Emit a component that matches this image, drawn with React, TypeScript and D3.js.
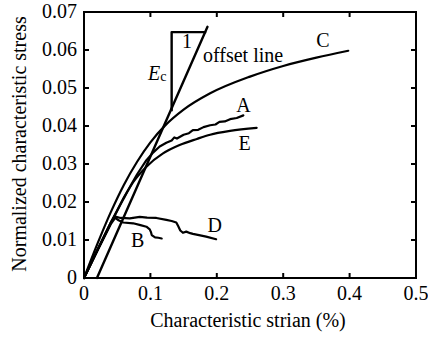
import React from "react";
import * as d3 from "d3";

const xTicks = [0, 0.1, 0.2, 0.3, 0.4, 0.5];
const yTicks = [0, 0.01, 0.02, 0.03, 0.04, 0.05, 0.06, 0.07];
const xTickLabels = ["0", "0.1", "0.2", "0.3", "0.4", "0.5"];
const yTickLabels = ["0", "0.01", "0.02", "0.03", "0.04", "0.05", "0.06", "0.07"];

const curveC: [number, number][] = [
  [0, 0], [0.02, 0.0089], [0.04, 0.0172], [0.06, 0.0245], [0.08, 0.0306], [0.1, 0.0357],
  [0.122, 0.0401], [0.15, 0.0443], [0.19, 0.0486], [0.25, 0.053], [0.3, 0.0558],
  [0.35, 0.058], [0.398, 0.0598],
];
const curveA: [number, number][] = [
  [0, 0], [0.02, 0.0073], [0.04, 0.0145], [0.06, 0.0212], [0.08, 0.0273], [0.094, 0.031],
  [0.104, 0.033], [0.114, 0.0346], [0.124, 0.0356], [0.132, 0.0362], [0.136, 0.037],
  [0.14, 0.0367], [0.15, 0.0377], [0.158, 0.0381], [0.164, 0.0389], [0.172, 0.039],
  [0.18, 0.0397], [0.19, 0.0402], [0.198, 0.0404], [0.204, 0.0411], [0.212, 0.0412],
  [0.22, 0.0418], [0.23, 0.0421], [0.24, 0.0428],
];
const curveE: [number, number][] = [
  [0, 0], [0.02, 0.0072], [0.04, 0.0142], [0.06, 0.021], [0.074, 0.0252], [0.094, 0.0293],
  [0.119, 0.0328], [0.144, 0.035], [0.17, 0.0366], [0.19, 0.0377], [0.22, 0.0387], [0.26, 0.0395],
];
const curveD: [number, number][] = [
  [0, 0], [0.02, 0.0073], [0.04, 0.0145], [0.046, 0.0162], [0.055, 0.0158], [0.069, 0.0157],
  [0.084, 0.0161], [0.095, 0.0159], [0.109, 0.0158], [0.124, 0.0153], [0.132, 0.015],
  [0.139, 0.0146], [0.142, 0.0136], [0.145, 0.0125], [0.149, 0.0119], [0.154, 0.0122],
  [0.16, 0.0118], [0.164, 0.0116], [0.175, 0.0112], [0.184, 0.0109], [0.199, 0.0102],
];
const curveB: [number, number][] = [
  [0, 0], [0.02, 0.0071], [0.04, 0.0141], [0.047, 0.0158], [0.052, 0.0152], [0.059, 0.0146],
  [0.074, 0.0144], [0.085, 0.0139], [0.094, 0.0135], [0.099, 0.0128], [0.101, 0.012],
  [0.102, 0.0113], [0.107, 0.0107], [0.112, 0.0106], [0.117, 0.0104],
];
const offsetLine: [number, number][] = [[0.0195, 0], [0.186, 0.0661]];
const triangle: [number, number][] = [[0.132, 0.0442], [0.132, 0.0647], [0.1823, 0.0647]];

const curveLabels = [
  { text: "C", x: 0.36, y: 0.0608 },
  { text: "A", x: 0.24, y: 0.0436 },
  { text: "E", x: 0.242, y: 0.0337 },
  { text: "D", x: 0.197, y: 0.0122 },
  { text: "B", x: 0.081, y: 0.0082 },
];

const W = 428, H = 340;
const L = 84, R = 416, T = 12, B = 278;
const FONT = "'Liberation Serif', 'Times New Roman', serif";

export default function App() {
  const x = d3.scaleLinear().domain([0, 0.5]).range([L, R]);
  const y = d3.scaleLinear().domain([0, 0.07]).range([B, T]);
  const lin = d3.line<[number, number]>().x((d) => x(d[0])).y((d) => y(d[1]));
  const smooth = d3.line<[number, number]>().x((d) => x(d[0])).y((d) => y(d[1])).curve(d3.curveMonotoneX);
  const tl = 5;
  return (
    <svg width={W} height={H} style={{ position: "absolute", left: 0, top: 0, background: "#fff" }}>
      <rect x={0} y={0} width={W} height={H} fill="#fff" />
      <g fill="none" stroke="#000" strokeWidth={2.2} strokeLinejoin="round" strokeLinecap="round">
        <path d={smooth(curveC) || ""} />
        <path d={lin(curveA) || ""} />
        <path d={smooth(curveE) || ""} />
        <path d={lin(curveD) || ""} />
        <path d={lin(curveB) || ""} />
        <path d={lin(offsetLine) || ""} strokeWidth={2.4} />
        <path d={lin(triangle) || ""} strokeWidth={2.4} strokeLinecap="square" />
      </g>
      <g stroke="#000" strokeWidth={2}>
        <rect x={L} y={T} width={R - L} height={B - T} fill="none" />
        {xTicks.slice(1, -1).map((t) => (
          <g key={"x" + t}>
            <line x1={x(t)} x2={x(t)} y1={B} y2={B - tl} />
            <line x1={x(t)} x2={x(t)} y1={T} y2={T + tl} />
          </g>
        ))}
        {yTicks.slice(1, -1).map((t) => (
          <g key={"y" + t}>
            <line x1={L} x2={L + tl} y1={y(t)} y2={y(t)} />
            <line x1={R} x2={R - tl} y1={y(t)} y2={y(t)} />
          </g>
        ))}
      </g>
      <g fontFamily={FONT} fontSize={20} fill="#000">
        {xTicks.map((t, i) => (
          <text key={"xl" + t} x={x(t)} y={300} textAnchor="middle">{xTickLabels[i]}</text>
        ))}
        {yTicks.map((t, i) => (
          <text key={"yl" + t} x={77} y={y(t) + 6} textAnchor="end">{yTickLabels[i]}</text>
        ))}
        <text x={(L + R) / 2 - 2} y={327} textAnchor="middle">Characteristic strian (%)</text>
        <text transform={`translate(26, ${144}) rotate(-90)`} textAnchor="middle">Normalized characteristic stress</text>
        {curveLabels.map((c) => (
          <text key={c.text} x={x(c.x)} y={y(c.y)} textAnchor="middle">{c.text}</text>
        ))}
        <text x={187} y={48} textAnchor="middle">1</text>
        <text x={203} y={62}>offset line</text>
        <text x={148} y={80}>
          <tspan fontStyle="italic">E</tspan>
          <tspan fontSize={14} dy={1}>c</tspan>
        </text>
      </g>
    </svg>
  );
}
